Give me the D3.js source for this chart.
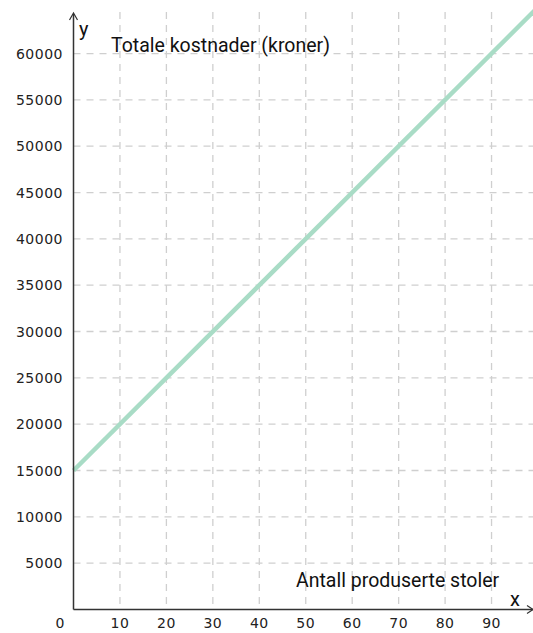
<!DOCTYPE html>
<html><head><meta charset="utf-8">
<script src="https://cdn.jsdelivr.net/npm/d3@7"></script>
<style>
html,body{margin:0;padding:0;background:#fff;}
svg{display:block;font-family:Roboto, "Noto Sans", sans-serif;}
.tick{font-family:"DejaVu Sans", Verdana, sans-serif;}
</style></head>
<body>
<svg id="c" width="533" height="633"></svg>
<script>
const xTicks = [10,20,30,40,50,60,70,80,90];
const yTicks = [5000,10000,15000,20000,25000,30000,35000,40000,45000,50000,55000,60000];
const lineX = [0, 100];
const lineY = [15000, 65000];
const xTitle = "Antall produserte stoler";
const yTitle = "Totale kostnader (kroner)";

const svg = d3.select("#c");
const W = 533, H = 633;
const x0 = 73.5, y0 = 609.5, unitX = 46.45/10, unitY = 46.33/5000;
const x = d3.scaleLinear().domain([0, (W - x0)/unitX]).range([x0, W]);
const y = d3.scaleLinear().domain([0, (y0 - 10)/unitY]).range([y0, 10]);

// grid
const g = svg.append("g");
g.selectAll("line.v").data(xTicks).join("line")
  .attr("x1", d=>x(d)).attr("x2", d=>x(d)).attr("y1", 12).attr("y2", y0)
  .attr("stroke", "#cfcfcf").attr("stroke-width", 1.3).attr("stroke-dasharray", "7,6");
g.selectAll("line.h").data(yTicks).join("line")
  .attr("y1", d=>y(d)).attr("y2", d=>y(d)).attr("x1", x0).attr("x2", W)
  .attr("stroke", "#cfcfcf").attr("stroke-width", 1.3).attr("stroke-dasharray", "7,6");

// line
svg.append("path")
  .datum(lineX.map((v,i)=>[v, lineY[i]]))
  .attr("d", d3.line().x(d=>x(d[0])).y(d=>y(d[1])))
  .attr("stroke", "#a9dcc6").attr("stroke-width", 4.5).attr("fill", "none");

// axes
svg.append("line").attr("x1", x0).attr("x2", x0).attr("y1", 14).attr("y2", y0)
  .attr("stroke", "#333").attr("stroke-width", 1.5);
svg.append("path").attr("d", `M${x0-4},${20} L${x0},${13} L${x0+4},${20}`)
  .attr("fill","none").attr("stroke","#333").attr("stroke-width",1.2);
svg.append("line").attr("x1", x0).attr("x2", W).attr("y1", y0).attr("y2", y0)
  .attr("stroke", "#333").attr("stroke-width", 1.5);
svg.append("path").attr("d", `M${W-6},${y0-4} L${W},${y0} L${W-6},${y0+4}`)
  .attr("fill","none").attr("stroke","#333").attr("stroke-width",1.2);

// tick labels
svg.selectAll("text.xt").data(xTicks).join("text").attr("class","tick")
  .attr("x", d=>x(d)).attr("y", 628).attr("text-anchor","middle")
  .attr("font-size", 14).attr("letter-spacing", 0.5).attr("fill","#222").text(d=>d);
svg.append("text").attr("class","tick").attr("x", 60).attr("y", 628).attr("text-anchor","middle")
  .attr("font-size", 14).attr("fill","#222").text("0");
svg.selectAll("text.yt").data(yTicks).join("text").attr("class","tick")
  .attr("x", 63).attr("y", d=>y(d)+5).attr("text-anchor","end")
  .attr("font-size", 14).attr("letter-spacing", 0.5).attr("fill","#222").text(d=>d);

// titles
svg.append("text").attr("x", 79).attr("y", 36).attr("font-size", 20).attr("fill","#111").text("y");
svg.append("text").attr("x", 510).attr("y", 606).attr("font-size", 20).attr("fill","#111").text("x");
svg.append("text").attr("x", 111).attr("y", 52).attr("font-size", 19.5).attr("fill","#111").text(yTitle);
svg.append("text").attr("x", 296).attr("y", 587).attr("font-size", 19.5).attr("fill","#111").text(xTitle);
</script>
</body></html>
